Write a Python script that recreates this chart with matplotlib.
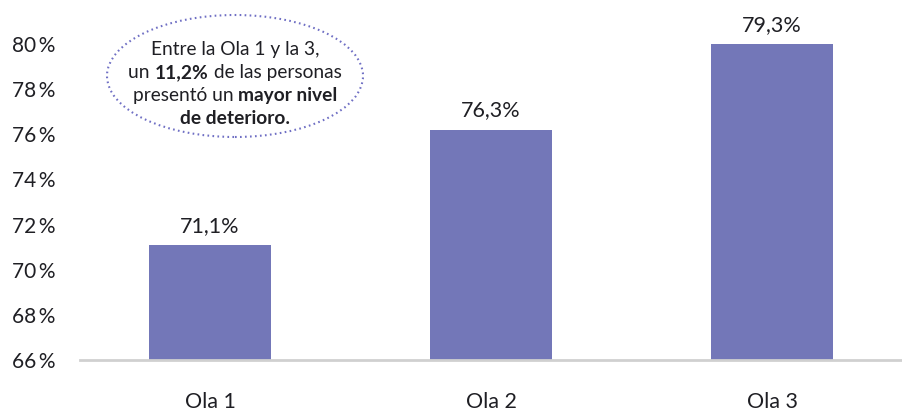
import matplotlib
matplotlib.use("Agg")
import matplotlib.pyplot as plt
from matplotlib.patches import Ellipse

# data
olas = ["Ola 1", "Ola 2", "Ola 3"]
bar_vals = [71.1, 76.2, 80.0]
bar_labels = ["71,1%", "76,3%", "79,3%"]
yticks = [66, 68, 70, 72, 74, 76, 78, 80]
note_lines = [
    [("Entre la Ola 1 y la 3,", False)],
    [("un ", False), ("11,2%", True), (" de las personas", False)],
    [("presentó un ", False), ("mayor nivel", True)],
    [("de deterioro.", True)],
]

FONT = ["Lato", "DejaVu Sans"]
TXT = "#1f1f24"
BAR = "#7377b8"

plt.rcParams["font.family"] = FONT

W, H = 903, 415
fig = plt.figure(figsize=(W / 100, H / 100), dpi=100)
ax = fig.add_axes([80 / W, 1 - 360 / H, 823 / W, (360 - 21.4) / H])

x = range(len(olas))
ax.bar(x, bar_vals, width=0.434, color=BAR, zorder=2)
ax.set_ylim(66, 81)
ax.set_xlim(-0.463, 2.466)

for i, (v, lab) in enumerate(zip(bar_vals, bar_labels)):
    ax.annotate(lab, (i, v), xytext=(0, 9.5), textcoords="offset points",
                ha="center", va="baseline", fontsize=15.5, color=TXT,
                annotation_clip=False)

ax.set_yticks(yticks)
ax.set_yticklabels([f"{t}\u2009%" for t in yticks])
ax.set_xticks(list(x))
ax.set_xticklabels(olas)
ax.tick_params(axis="y", length=0, pad=18, labelsize=15, labelcolor=TXT)
ax.tick_params(axis="x", length=0, pad=23, labelsize=15.5, labelcolor=TXT)

for s in ["top", "right", "left"]:
    ax.spines[s].set_visible(False)
ax.spines["bottom"].set_color("#d0d0d0")
ax.spines["bottom"].set_linewidth(2)

# dotted ellipse with note
cx, cy = 235, 76
ell = Ellipse((cx / W, 1 - cy / H), 256 / W, 122 / H, transform=fig.transFigure,
              fill=False, edgecolor="#6f6fc4", linestyle=(0, (0.8, 1.6)), linewidth=1.5)
fig.add_artist(ell)

renderer = fig.canvas.get_renderer()
line_y = [55, 78, 101, 124]
for segs, ly in zip(note_lines, line_y):
    texts = []
    for s, b in segs:
        t = fig.text(0, 1 - ly / H, s, fontsize=13.8, color=TXT,
                     fontweight="bold" if b else "normal", va="baseline", ha="left")
        texts.append(t)
    widths = [t.get_window_extent(renderer).width for t in texts]
    total = sum(widths)
    xpos = cx - total / 2
    for t, w in zip(texts, widths):
        t.set_x(xpos / W)
        xpos += w

fig.savefig("out.png", dpi=100)
